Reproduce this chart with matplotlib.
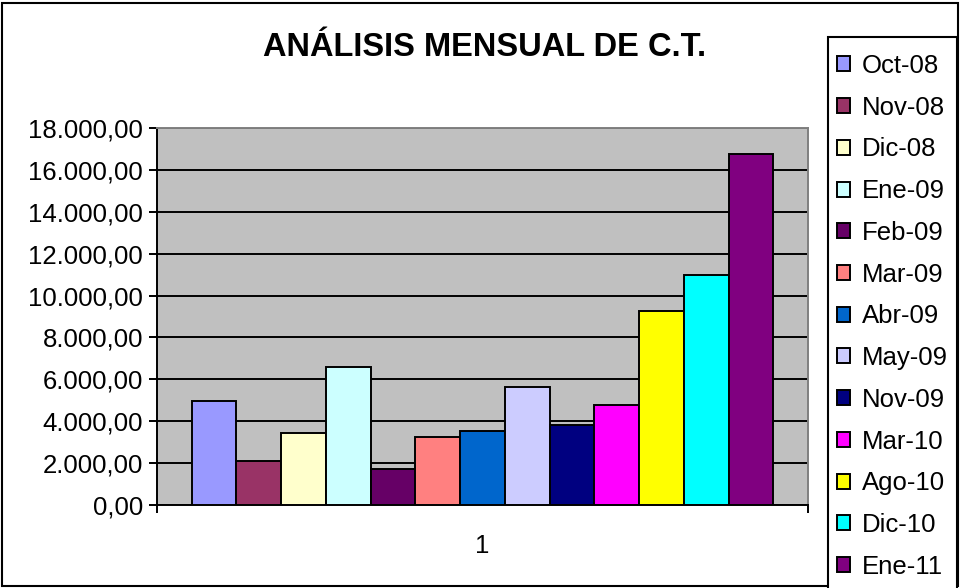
import numpy as np
from matplotlib import pyplot as plt
from matplotlib import ticker as tk
from matplotlib.patches import Rectangle

plt.rcParams['font.family'] = ['Liberation Sans', 'DejaVu Sans']

months = ['Oct-08', 'Nov-08', 'Dic-08', 'Ene-09', 'Feb-09', 'Mar-09', 'Abr-09',
          'May-09', 'Nov-09', 'Mar-10', 'Ago-10', 'Dic-10', 'Ene-11']
values = [4960, 2100, 3420, 6590, 1700, 3250, 3520,
          5630, 3820, 4770, 9260, 10980, 16740]
colors = ['#9999FF', '#993366', '#FFFFCC', '#CCFFFF', '#660066', '#FF8080',
          '#0066CC', '#CCCCFF', '#000080', '#FF00FF', '#FFFF00', '#00FFFF',
          '#800080']
category = ['1']

fig = plt.figure(figsize=(9.62, 5.88), dpi=100)
ax = fig.add_axes([157 / 962, 1 - 505 / 588, (808 - 157) / 962, (505 - 128) / 588])

n = len(values)
group = 0.894
w = group / n
x0 = 1 - group / 2
for i, (m, v, c) in enumerate(zip(months, values, colors)):
    ax.bar(x0 + w * (i + 0.5), v, width=w, color=c, edgecolor='black',
           linewidth=1.4, label=m, zorder=3)

ax.set_facecolor('#C0C0C0')
ax.set_xlim(0.5, 1.5)
ax.set_ylim(0, 18000)
ax.yaxis.set_major_locator(tk.MultipleLocator(2000))


def fmt(v, pos):
    s = f'{v:,.2f}'
    return s.replace(',', 'X').replace('.', ',').replace('X', '.')


ax.yaxis.set_major_formatter(tk.FuncFormatter(fmt))
ax.grid(axis='y', color='black', linewidth=1.4, zorder=1)
ax.set_xticks([1])
ax.set_xticklabels(category)
ax.set_xticks([0.5, 1.5], minor=True)
ax.tick_params(axis='x', which='major', length=0, pad=21, labelsize=18.5)
ax.tick_params(axis='x', which='minor', length=6, width=1.4, direction='out')
ax.tick_params(axis='y', length=6, width=1.4, direction='out', labelsize=18.5, pad=4)

for s in ['top', 'right']:
    ax.spines[s].set_color('#808080')
    ax.spines[s].set_linewidth(1.4)
for s in ['left', 'bottom']:
    ax.spines[s].set_color('black')
    ax.spines[s].set_linewidth(1.4)

fig.text(485 / 962, 1 - 48 / 588, 'ANÁLISIS MENSUAL DE C.T.', ha='center',
         va='center', fontsize=23.5, fontweight='bold')

# outer chart border
fig.patches.append(Rectangle((2 / 962, 2 / 588), 956 / 962, 583 / 588,
                             transform=fig.transFigure, fill=False,
                             edgecolor='black', linewidth=1.5, zorder=0))
# legend box reaches the bottom edge, like the Excel original
fig.patches.append(Rectangle((828 / 962, -0.01), 129 / 962, 1.01 - 37 / 588,
                             transform=fig.transFigure, facecolor='white',
                             edgecolor='black', linewidth=1.5, zorder=1))

leg = fig.legend(loc='upper left', bbox_to_anchor=(828 / 962, 1 - 45 / 588),
                 frameon=False, fontsize=18.5, labelspacing=0.69,
                 handlelength=0.52, handleheight=0.52, handletextpad=0.45,
                 borderpad=0.35, borderaxespad=0)

fig.savefig('out.png', dpi=100)
